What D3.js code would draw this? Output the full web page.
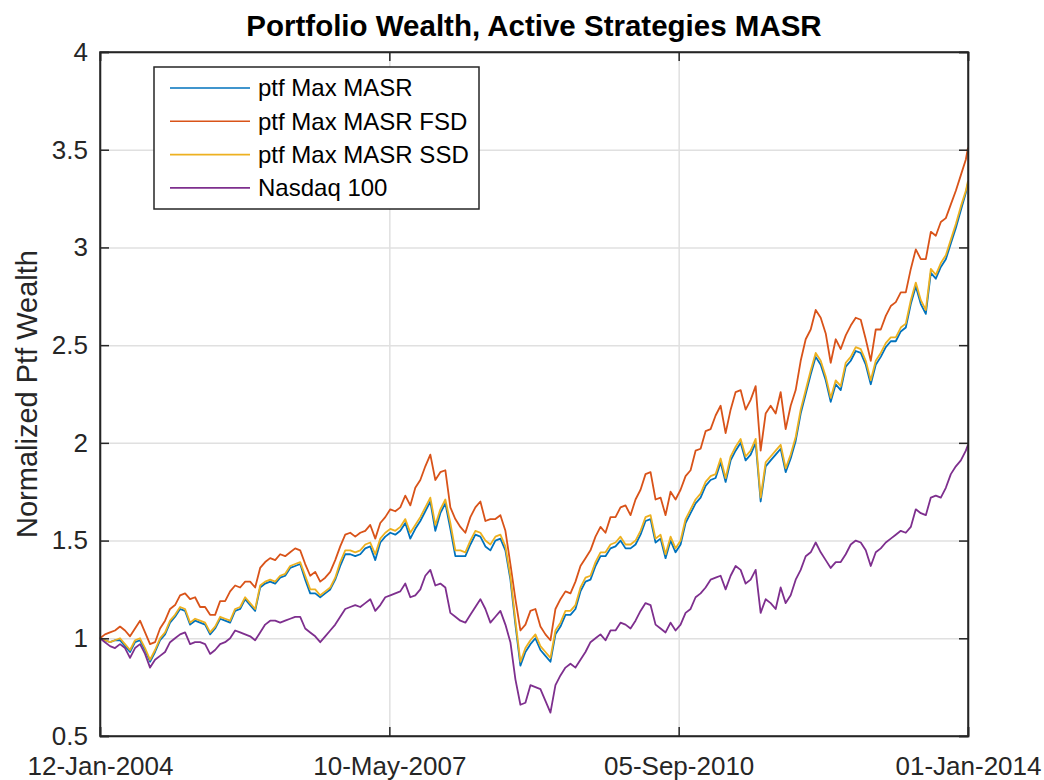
<!DOCTYPE html>
<html lang="en">
<head>
  <meta charset="UTF-8"/>
  <title>Portfolio Wealth, Active Strategies MASR</title>
  <script src="https://cdnjs.cloudflare.com/ajax/libs/d3/7.8.5/d3.min.js"></script>
  <style>
    body { margin: 0; background: #fff; }
    text { font-family: "Liberation Sans", Arial, sans-serif; fill: #262626; }
  </style>
</head>
<body>
<svg id="chart" width="1044" height="780"></svg>
<script>
// sample dates: every 21 days from 12-Jan-2004, plus the final day
const startDate = new Date(2004, 0, 12);
const endDate = new Date(2014, 0, 1);
const dates = d3.timeDay.range(startDate, endDate, 21);
dates.push(endDate);

const seriesNames = ["ptf Max MASR", "ptf Max MASR FSD", "ptf Max MASR SSD", "Nasdaq 100"];
const seriesColors = ["#0072BD", "#D95319", "#EDB120", "#7E2F8E"];

const masr = [
  1.00, 0.99, 0.98, 0.99, 0.99, 0.96, 0.93, 0.98, 0.99, 0.94,
  0.88, 0.93, 0.99, 1.02, 1.08, 1.11, 1.15, 1.14, 1.07, 1.09,
  1.08, 1.07, 1.02, 1.05, 1.10, 1.09, 1.08, 1.14, 1.15, 1.20,
  1.17, 1.14, 1.26, 1.28, 1.29, 1.28, 1.31, 1.32, 1.36, 1.37,
  1.38, 1.30, 1.23, 1.23, 1.21, 1.23, 1.25, 1.30, 1.37, 1.43,
  1.43, 1.42, 1.43, 1.46, 1.47, 1.40, 1.49, 1.52, 1.54, 1.53,
  1.55, 1.59, 1.51, 1.56, 1.60, 1.65, 1.70, 1.55, 1.64, 1.69,
  1.56, 1.42, 1.42, 1.42, 1.48, 1.53, 1.52, 1.47, 1.45, 1.50,
  1.51, 1.45, 1.30, 1.07, 0.86, 0.93, 0.97, 1.00, 0.94, 0.91,
  0.88, 1.02, 1.06, 1.12, 1.12, 1.15, 1.24, 1.29, 1.30, 1.37,
  1.42, 1.42, 1.46, 1.47, 1.50, 1.46, 1.46, 1.48, 1.53, 1.60,
  1.61, 1.49, 1.51, 1.41, 1.50, 1.44, 1.48, 1.59, 1.64, 1.69,
  1.72, 1.78, 1.81, 1.82, 1.90, 1.80, 1.91, 1.96, 2.00, 1.91,
  1.94, 2.00, 1.70, 1.88, 1.91, 1.94, 1.97, 1.85, 1.92, 2.01,
  2.15, 2.25, 2.35, 2.44, 2.40, 2.32, 2.21, 2.30, 2.27, 2.39,
  2.42, 2.47, 2.46, 2.40, 2.30, 2.40, 2.44, 2.49, 2.52, 2.52,
  2.57, 2.59, 2.71, 2.80, 2.71, 2.66, 2.87, 2.84, 2.90, 2.94,
  3.02, 3.10, 3.19, 3.28, 3.33
];

const masrFsd = [
  1.00, 1.02, 1.03, 1.04, 1.06, 1.04, 1.01, 1.05, 1.09, 1.03,
  0.97, 0.98, 1.05, 1.09, 1.15, 1.17, 1.22, 1.23, 1.20, 1.21,
  1.16, 1.16, 1.12, 1.12, 1.19, 1.19, 1.24, 1.27, 1.26, 1.29,
  1.29, 1.26, 1.36, 1.39, 1.41, 1.40, 1.43, 1.42, 1.44, 1.46,
  1.45, 1.38, 1.32, 1.34, 1.29, 1.31, 1.34, 1.40, 1.47, 1.53,
  1.54, 1.52, 1.54, 1.55, 1.58, 1.51, 1.59, 1.62, 1.66, 1.65,
  1.67, 1.73, 1.68, 1.77, 1.81, 1.88, 1.94, 1.81, 1.85, 1.86,
  1.67, 1.61, 1.57, 1.54, 1.62, 1.67, 1.70, 1.60, 1.61, 1.61,
  1.63, 1.55, 1.38, 1.20, 1.04, 1.07, 1.14, 1.15, 1.06, 1.02,
  0.99, 1.15, 1.20, 1.24, 1.23, 1.29, 1.37, 1.41, 1.45, 1.52,
  1.57, 1.54, 1.62, 1.62, 1.67, 1.68, 1.63, 1.71, 1.76, 1.84,
  1.85, 1.71, 1.72, 1.63, 1.75, 1.71, 1.76, 1.83, 1.86, 1.96,
  1.97, 2.06, 2.07, 2.14, 2.19, 2.05, 2.17, 2.26, 2.27, 2.17,
  2.22, 2.29, 1.96, 2.15, 2.19, 2.15, 2.26, 2.07, 2.19, 2.27,
  2.42, 2.53, 2.58, 2.68, 2.64, 2.56, 2.41, 2.53, 2.48, 2.55,
  2.60, 2.64, 2.63, 2.53, 2.42, 2.58, 2.58, 2.65, 2.70, 2.72,
  2.77, 2.77, 2.89, 2.99, 2.94, 2.94, 3.08, 3.06, 3.13, 3.15,
  3.22, 3.29, 3.37, 3.45, 3.51
];

const masrSsd = [
  1.00, 0.99, 0.98, 0.99, 1.00, 0.97, 0.94, 0.99, 1.00, 0.95,
  0.89, 0.94, 1.00, 1.03, 1.09, 1.12, 1.16, 1.15, 1.08, 1.10,
  1.09, 1.08, 1.03, 1.06, 1.11, 1.10, 1.09, 1.15, 1.16, 1.21,
  1.18, 1.15, 1.27, 1.29, 1.30, 1.29, 1.32, 1.33, 1.37, 1.38,
  1.39, 1.32, 1.25, 1.25, 1.22, 1.24, 1.26, 1.31, 1.39, 1.45,
  1.45, 1.44, 1.45, 1.48, 1.49, 1.43, 1.51, 1.54, 1.56, 1.55,
  1.57, 1.61, 1.54, 1.58, 1.62, 1.67, 1.72, 1.58, 1.66, 1.71,
  1.59, 1.45, 1.45, 1.44, 1.50, 1.55, 1.54, 1.50, 1.48, 1.52,
  1.53, 1.47, 1.32, 1.09, 0.88, 0.95, 0.99, 1.02, 0.96, 0.93,
  0.90, 1.04, 1.08, 1.14, 1.14, 1.17, 1.26, 1.31, 1.32, 1.39,
  1.44, 1.44, 1.48, 1.49, 1.52, 1.48, 1.48, 1.50, 1.55, 1.62,
  1.63, 1.51, 1.53, 1.43, 1.52, 1.46, 1.50, 1.61, 1.66, 1.71,
  1.74, 1.80, 1.83, 1.84, 1.92, 1.82, 1.93, 1.98, 2.02, 1.93,
  1.96, 2.02, 1.72, 1.90, 1.93, 1.96, 1.99, 1.87, 1.94, 2.03,
  2.17, 2.27, 2.37, 2.46, 2.42, 2.34, 2.23, 2.32, 2.29, 2.41,
  2.44, 2.49, 2.48, 2.42, 2.32, 2.42, 2.46, 2.51, 2.54, 2.54,
  2.59, 2.61, 2.73, 2.82, 2.73, 2.68, 2.89, 2.86, 2.92, 2.96,
  3.04, 3.12, 3.21, 3.29, 3.34
];

const nasdaq = [
  1.00, 0.98, 0.96, 0.95, 0.97, 0.95, 0.90, 0.95, 0.97, 0.92,
  0.85, 0.89, 0.91, 0.93, 0.98, 1.00, 1.02, 1.03, 0.97, 0.98,
  0.98, 0.97, 0.92, 0.94, 0.97, 0.98, 1.00, 1.04, 1.03, 1.02,
  1.01, 0.99, 1.03, 1.07, 1.09, 1.09, 1.08, 1.09, 1.10, 1.11,
  1.11, 1.05, 1.03, 1.01, 0.98, 1.01, 1.04, 1.07, 1.11, 1.15,
  1.16, 1.17, 1.16, 1.18, 1.20, 1.14, 1.17, 1.21, 1.22, 1.23,
  1.24, 1.28, 1.21, 1.22, 1.25, 1.32, 1.35, 1.27, 1.28, 1.26,
  1.13, 1.11, 1.09, 1.08, 1.12, 1.16, 1.20, 1.15, 1.08, 1.11,
  1.14, 1.07, 0.98, 0.79, 0.66, 0.67, 0.76, 0.75, 0.74, 0.68,
  0.62, 0.76, 0.81, 0.85, 0.87, 0.85, 0.89, 0.93, 0.98, 1.00,
  1.02, 0.99, 1.04, 1.04, 1.08, 1.07, 1.05, 1.09, 1.14, 1.18,
  1.17, 1.07, 1.05, 1.03, 1.08, 1.04, 1.07, 1.13, 1.15, 1.21,
  1.23, 1.26, 1.30, 1.31, 1.32, 1.25, 1.32, 1.37, 1.35, 1.28,
  1.30, 1.35, 1.13, 1.20, 1.18, 1.15, 1.26, 1.18, 1.22, 1.30,
  1.35, 1.42, 1.44, 1.49, 1.44, 1.40, 1.36, 1.39, 1.39, 1.43,
  1.48, 1.50, 1.49, 1.45, 1.37, 1.44, 1.46, 1.49, 1.51, 1.53,
  1.55, 1.54, 1.57, 1.66, 1.64, 1.63, 1.72, 1.73, 1.72, 1.77,
  1.84, 1.88, 1.91, 1.96, 1.99
];

const yTicks = [0.5, 1, 1.5, 2, 2.5, 3, 3.5, 4];
const xTicks = [new Date(2004, 0, 12), new Date(2007, 4, 10), new Date(2010, 8, 5), new Date(2014, 0, 1)];
const xTickLabels = ["12-Jan-2004", "10-May-2007", "05-Sep-2010", "01-Jan-2014"];

const mLeft = 100, mRight = 968, mTop = 52, mBottom = 736;
const width = mRight - mLeft, height = mBottom - mTop;

const svg = d3.select("#chart");
svg.append("rect").attr("width", 1044).attr("height", 780).attr("fill", "#fff");

const x = d3.scaleTime().domain([startDate, endDate]).range([0, width]);
const y = d3.scaleLinear().domain([0.5, 4]).range([height, 0]);

const chart = svg.append("g").attr("transform", `translate(${mLeft}, ${mTop})`);

// grid
chart.append("g")
  .attr("class", "grid")
  .call(d3.axisLeft(y).tickValues(yTicks).tickSize(-width).tickFormat(""))
  .call(g => g.select(".domain").remove());
chart.append("g")
  .attr("class", "grid")
  .attr("transform", `translate(0, ${height})`)
  .call(d3.axisBottom(x).tickValues(xTicks).tickSize(-height).tickFormat(""))
  .call(g => g.select(".domain").remove());
chart.selectAll(".grid line").attr("stroke", "#e0e0e0").attr("stroke-width", 1.5);

// series, MATLAB drawing order
const allSeries = [masr, masrFsd, masrSsd, nasdaq];
const line = d3.line()
  .x((d, i) => x(dates[i]))
  .y(d => y(d));

allSeries.forEach((s, k) => {
  chart.append("path")
    .datum(s)
    .attr("fill", "none")
    .attr("stroke", seriesColors[k])
    .attr("stroke-width", 1.8)
    .attr("stroke-linejoin", "round")
    .attr("d", line);
});

// axes with inward ticks
const tickFont = "26px";
const axisG = chart.append("g").attr("class", "axes");
axisG.append("g")
  .call(d3.axisLeft(y).tickValues(yTicks).tickSize(-9).tickPadding(12).tickFormat(d3.format("")))
  .call(g => g.selectAll("text").style("font-size", tickFont));
axisG.append("g")
  .attr("transform", `translate(${width}, 0)`)
  .call(d3.axisRight(y).tickValues(yTicks).tickSize(-9).tickFormat(""));
axisG.append("g")
  .attr("transform", `translate(0, ${height})`)
  .call(d3.axisBottom(x).tickValues(xTicks).tickSize(-9).tickPadding(21).tickFormat((d, i) => xTickLabels[i]))
  .call(g => g.selectAll("text").style("font-size", tickFont));
axisG.append("g")
  .call(d3.axisTop(x).tickValues(xTicks).tickSize(-9).tickFormat(""));
axisG.selectAll(".domain").attr("stroke", "#262626").attr("stroke-width", 1.5);
axisG.selectAll(".tick line").attr("stroke", "#262626").attr("stroke-width", 1.5);

// box
chart.append("rect")
  .attr("width", width).attr("height", height)
  .attr("fill", "none").attr("stroke", "#262626").attr("stroke-width", 1.5);

// title and label
svg.append("text")
  .attr("x", mLeft + width / 2).attr("y", 36)
  .attr("text-anchor", "middle")
  .style("font-size", "29.5px").style("font-weight", "bold").style("fill", "#000")
  .text("Portfolio Wealth, Active Strategies MASR");

svg.append("text")
  .attr("transform", `translate(37, ${mTop + height / 2}) rotate(-90)`)
  .attr("text-anchor", "middle")
  .style("font-size", "29px")
  .text("Normalized Ptf Wealth");

// legend
const legend = svg.append("g");
legend.append("rect")
  .attr("x", 154).attr("y", 67).attr("width", 325).attr("height", 142)
  .attr("fill", "#fff").attr("stroke", "#262626").attr("stroke-width", 1.5);
seriesNames.forEach((name, k) => {
  const ly = 88 + k * 33.3;
  legend.append("line")
    .attr("x1", 170).attr("x2", 250).attr("y1", ly).attr("y2", ly)
    .attr("stroke", seriesColors[k]).attr("stroke-width", 1.6);
  legend.append("text")
    .attr("x", 258).attr("y", ly).attr("dy", "0.35em")
    .style("font-size", "24px").style("fill", "#000")
    .text(name);
});
</script>
</body>
</html>
